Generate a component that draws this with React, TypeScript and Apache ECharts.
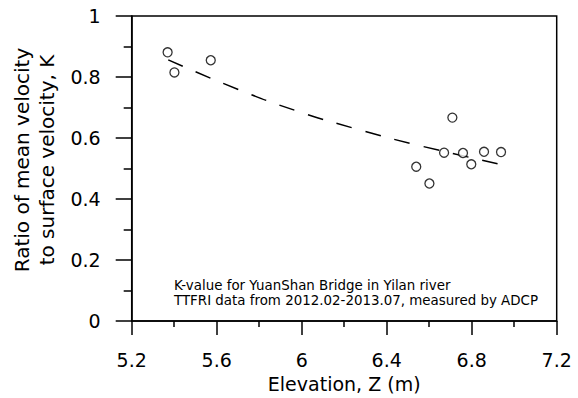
import React, { useEffect, useRef } from "react";
import * as echarts from "echarts";

const elevation = [5.369, 5.401, 5.572, 6.539, 6.601, 6.670, 6.709, 6.759, 6.798, 6.858, 6.938];
const kValue = [0.881, 0.815, 0.855, 0.506, 0.451, 0.552, 0.667, 0.551, 0.514, 0.555, 0.554];

const trendX = [5.372, 5.706, 5.976, 6.256, 6.538, 6.941];
const trendY = [0.856, 0.758, 0.689, 0.630, 0.578, 0.513];

const xTicks = { min: 5.2, max: 7.2, interval: 0.4 };
const yTicks = { min: 0, max: 1, interval: 0.2 };

const xTitle = "Elevation, Z (m)";
const yTitle = "Ratio of mean velocity\nto surface velocity, K";
const noteLines = [
  "K-value for YuanShan Bridge in Yilan river",
  "TTFRI data from 2012.02-2013.07, measured by ADCP",
];

const FONT = "'DejaVu Sans', 'Liberation Sans', Arial, sans-serif";

export default function App() {
  const ref = useRef<HTMLDivElement>(null);
  useEffect(() => {
    document.body.style.margin = "0";
    const chart = echarts.init(ref.current!, null, { renderer: "svg" });
    const axisLine = { show: true, lineStyle: { color: "#000", width: 1.5 } };
    chart.setOption({
      animation: false,
      backgroundColor: "#fff",
      grid: {
        left: 131.7,
        top: 16,
        right: 21.3,
        bottom: 76.3,
        show: true,
        borderColor: "#000",
        borderWidth: 1.5,
        backgroundColor: "transparent",
      },
      xAxis: {
        type: "value",
        min: xTicks.min,
        max: xTicks.max,
        interval: xTicks.interval,
        axisLine,
        axisTick: { show: true, inside: false, length: 14, lineStyle: { color: "#000", width: 1.5 } },
        minorTick: { show: true, splitNumber: 2, length: 6, lineStyle: { color: "#000", width: 1.5 } },
        splitLine: { show: false },
        axisLabel: {
          color: "#000",
          fontFamily: FONT,
          fontSize: 19,
          margin: 29,
          formatter: (v: number) => String(Math.round(v * 10) / 10),
        },
        name: xTitle,
        nameLocation: "middle",
        nameGap: 52,
        nameTextStyle: { color: "#000", fontFamily: FONT, fontSize: 19 },
      },
      yAxis: {
        type: "value",
        min: yTicks.min,
        max: yTicks.max,
        interval: yTicks.interval,
        axisLine,
        axisTick: { show: true, inside: false, length: 16, lineStyle: { color: "#000", width: 1.5 } },
        minorTick: { show: true, splitNumber: 2, length: 8, lineStyle: { color: "#000", width: 1.5 } },
        splitLine: { show: false },
        axisLabel: {
          color: "#000",
          fontFamily: FONT,
          fontSize: 19,
          margin: 31,
          formatter: (v: number) => String(Math.round(v * 10) / 10),
        },
      },
      series: [
        {
          type: "line",
          data: trendX.map((x, i) => [x, trendY[i]]),
          smooth: true,
          symbol: "none",
          lineStyle: { color: "#000", width: 1.5, type: [16, 14] },
          z: 2,
        },
        {
          type: "scatter",
          data: elevation.map((x, i) => [x, kValue[i]]),
          symbol: "circle",
          symbolSize: 9,
          itemStyle: { color: "#fff", borderColor: "#000", borderWidth: 1.3 },
          z: 3,
        },
      ],
      graphic: [
        {
          type: "text",
          x: 34,
          y: 160,
          rotation: Math.PI / 2,
          style: {
            text: yTitle,
            fill: "#000",
            font: `20px ${FONT}`,
            lineHeight: 25,
            align: "center",
            verticalAlign: "middle",
          },
        },
        ...noteLines.map((t, i) => ({
          type: "text",
          x: 174,
          y: 285 + i * 15,
          style: { text: t, fill: "#000", font: `13.4px ${FONT}`, verticalAlign: "middle" },
        })),
      ],
    });
    return () => chart.dispose();
  }, []);
  return <div ref={ref} style={{ position: "fixed", left: 0, top: 0, width: 578, height: 398 }} />;
}
